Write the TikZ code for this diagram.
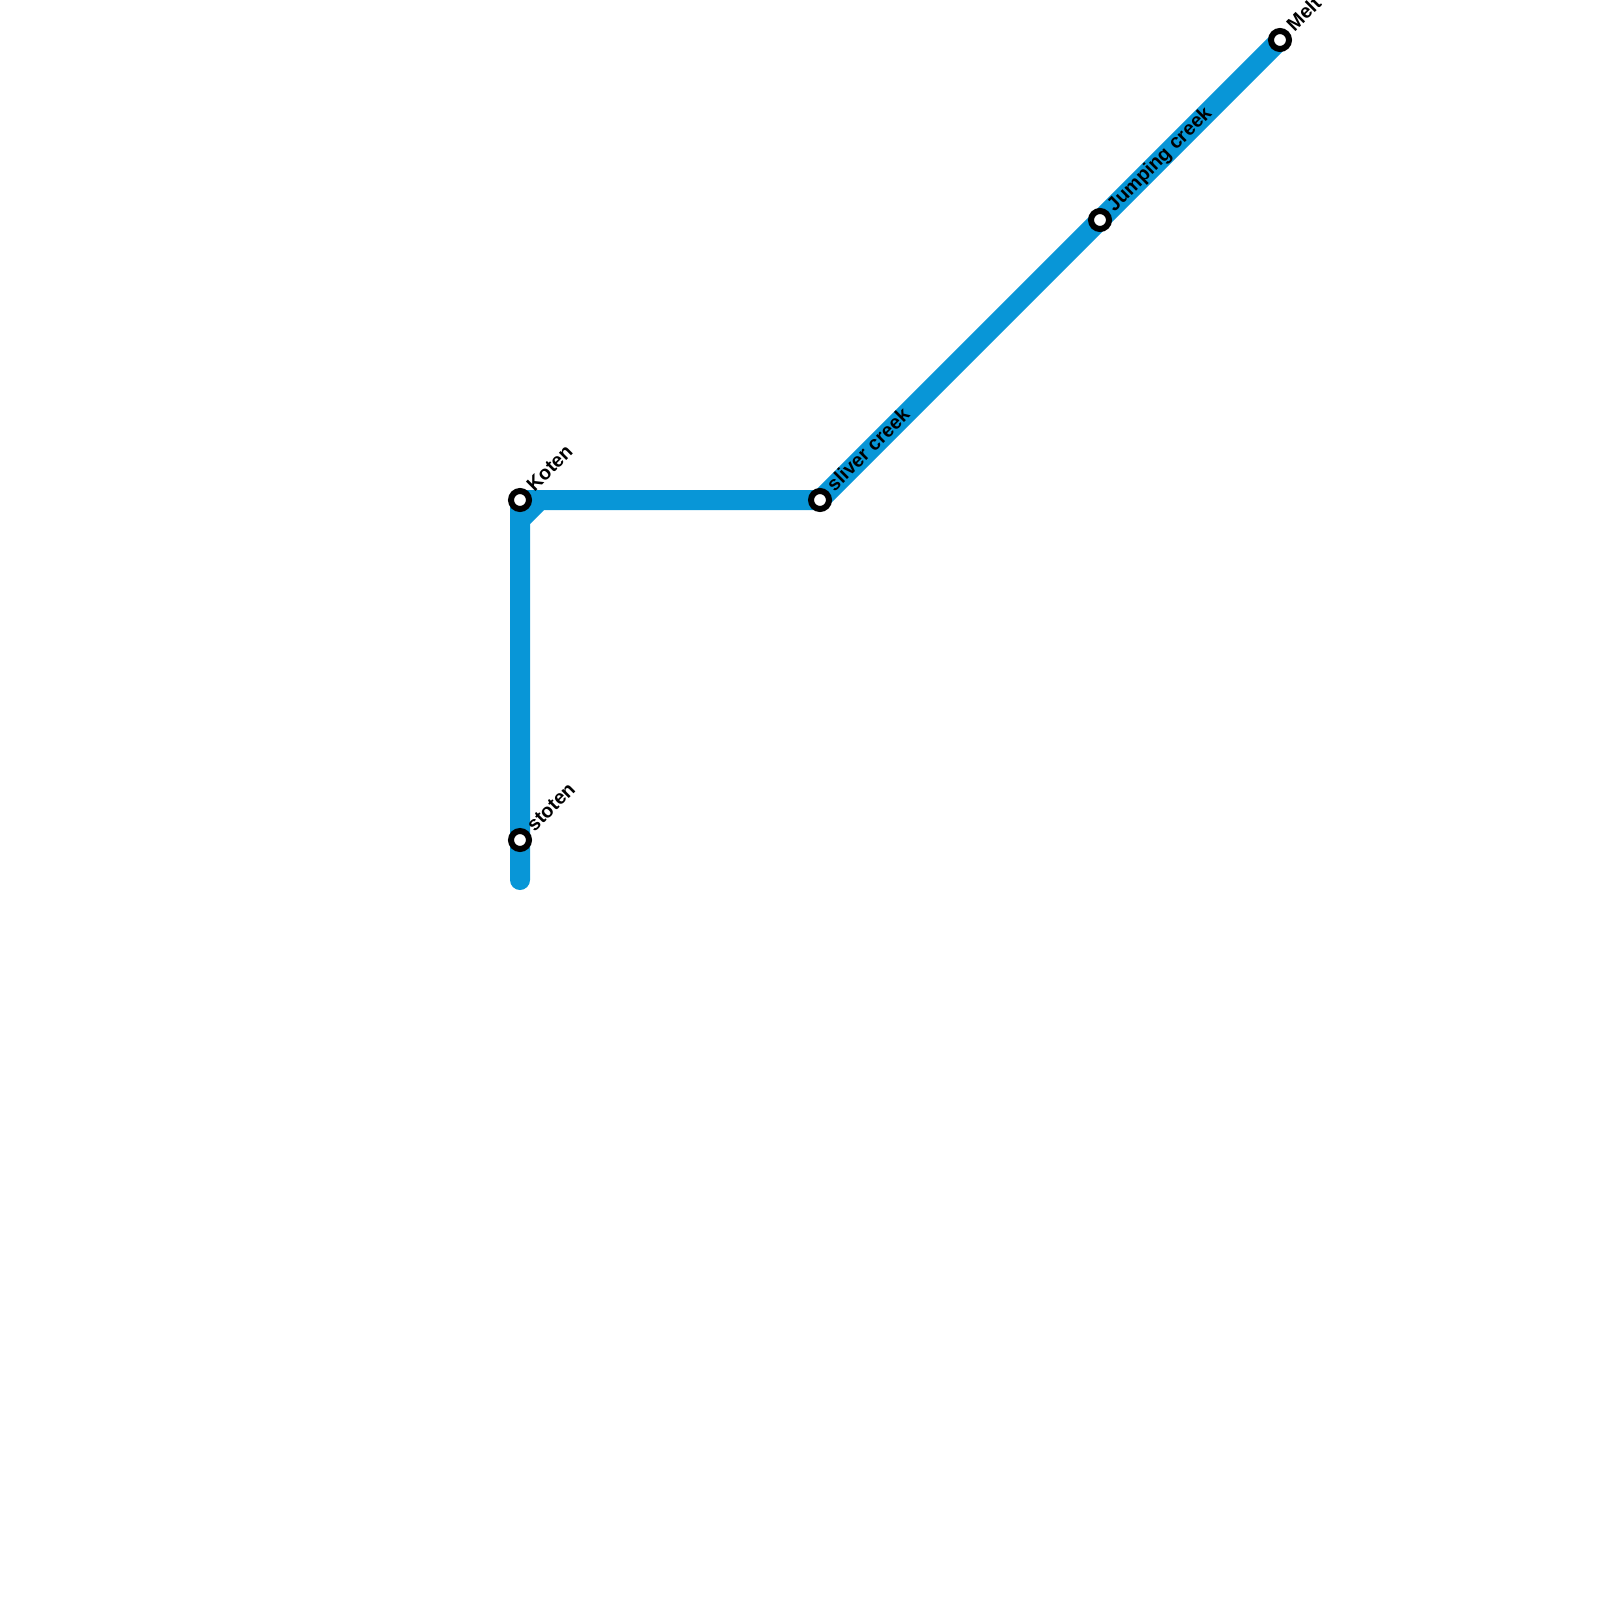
\documentclass[tikz,border=0pt]{standalone}
\usepackage{fontspec}
\setmainfont{Liberation Sans}
\tikzset{
  routeline/.style={draw=routeblue,line width=20pt,line cap=round,line join=round},
  stationdot/.style={circle,draw=black,fill=white,line width=6pt,minimum size=18pt,inner sep=0pt,outer sep=0pt},
  stationlabel/.style={anchor=base west,rotate=45,inner sep=0pt,font=\fontsize{19.6}{21}\selectfont\bfseries,text=black}
}
\definecolor{routeblue}{HTML}{0896D7}
\begin{document}
\begin{tikzpicture}[x=1pt,y=-1pt]
\useasboundingbox (0,0) rectangle (1600,1600);
\clip (0,0) rectangle (1600,1600);
\coordinate (end) at (520,880);
\coordinate (bendA) at (520,520);
\coordinate (bendB) at (540,500);
\draw[routeline] (end) -- (bendA) -- (bendB) -- (820,500) -- (1100,220) -- (1280,40);
\draw[routeline] (bendA) -- (520,500) -- (bendB);
\node[stationdot] (koten) at (520,500) {};
\node[stationdot] (stoten) at (520,840) {};
\node[stationdot] (sliver) at (820,500) {};
\node[stationdot] (jumping) at (1100,220) {};
\node[stationdot] (melt) at (1280,40) {};
\node[stationlabel] (lkoten) at (534.5,492.5) {Koten};
\node[stationlabel] (lstoten) at (534.5,832.5) {stoten};
\node[stationlabel] (lsliver) at (834.5,492.5) {sliver creek};
\node[stationlabel] (ljumping) at (1114.5,212.5) {Jumping creek};
\node[stationlabel] (lmelt) at (1294.5,32.5) {Melt};
\end{tikzpicture}
\end{document}
